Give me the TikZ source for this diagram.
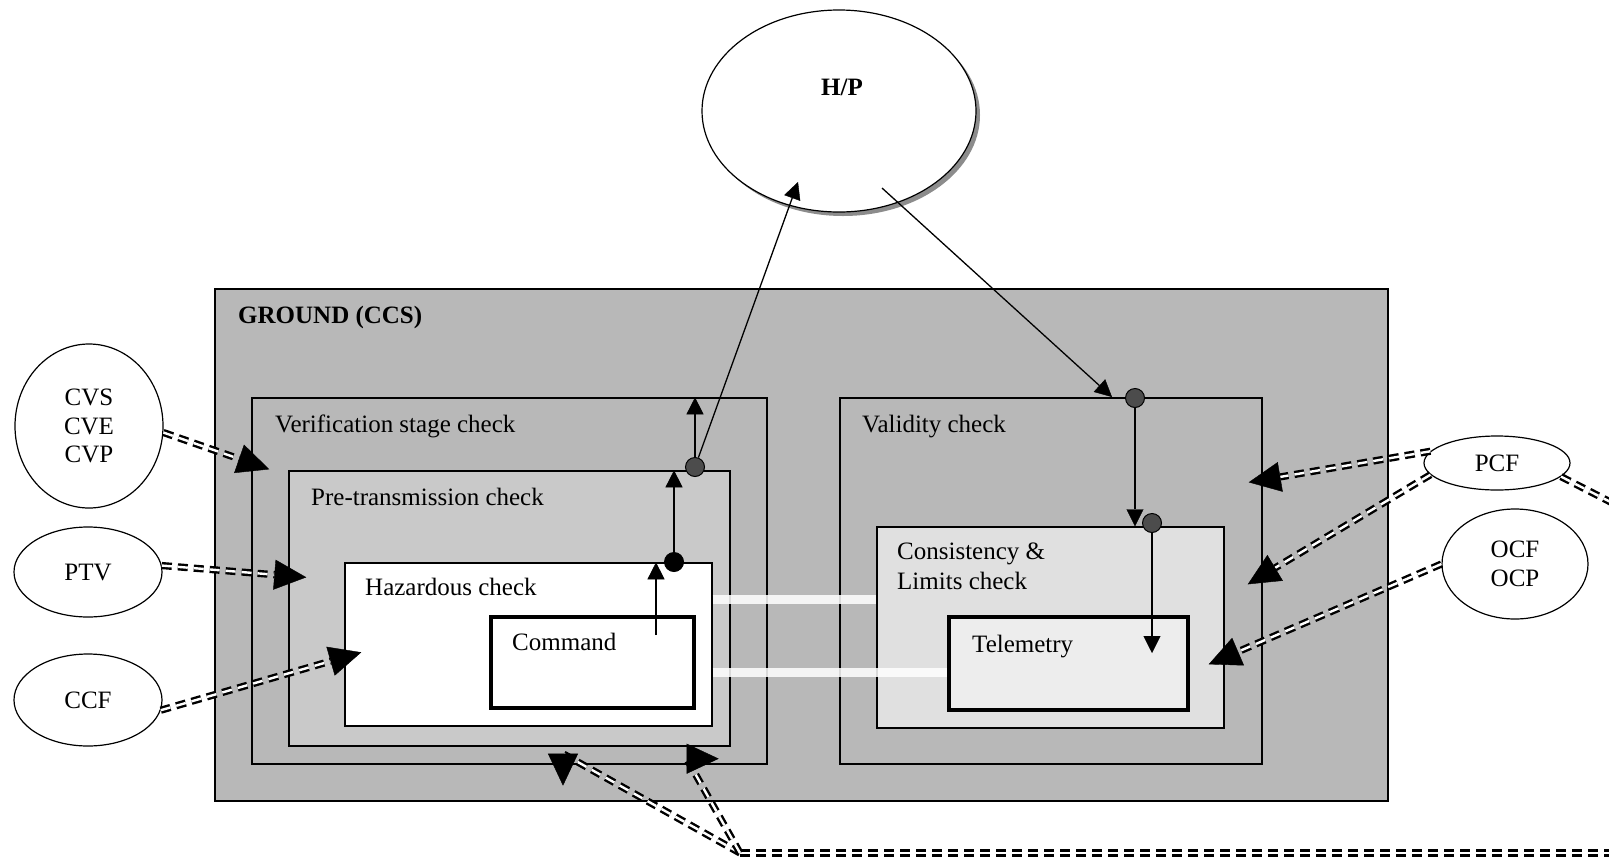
\documentclass[tikz,border=0pt]{standalone}
\usepackage{fontspec}
\setmainfont{Liberation Serif}
\usetikzlibrary{arrows.meta,shapes.geometric,shadows,calc}

\begin{document}
\begin{tikzpicture}[x=1pt, y=-1pt,
  every node/.style={font=\fontsize{25}{28.5}\selectfont},
  chk/.style={draw, line width=1.4pt, inner sep=0pt},
  inbox/.style={chk, line width=3.5pt},
  blob/.style={draw, ellipse, line width=1.2pt, fill=white, inner sep=0pt, align=center},
  lbl/.style={anchor=base west, inner sep=0pt},
  dbl/.style={double, double distance=2.4pt, line width=2.4pt, dash pattern=on 10pt off 6pt,
    -{Triangle[length=32pt,width=30pt,line width=0.4pt]}},
  flow/.style={line width=1.3pt, -{Triangle[length=17pt,width=17pt,line width=0.4pt]}},
  jdot/.style={circle, draw, line width=1pt, fill=black!70, minimum size=19pt, inner sep=0pt},
  gapbar/.style={white, line width=9pt, opacity=0.85}]
  \path[use as bounding box, clip] (0,0) rectangle (1609,860);

  % ground segment
  \node[chk, fill=black!28, minimum width=1173pt, minimum height=512pt] (ground) at (801.5,545) {};
  \node[lbl] at (238,323) {\bfseries GROUND (CCS)};

  % command side
  \node[chk, minimum width=515pt, minimum height=366pt] (ver) at (509.5,581) {};
  \node[lbl] at (275,432) {Verification stage check};
  \node[chk, fill=black!21, minimum width=441pt, minimum height=275pt] (pre) at (509.5,608.5) {};
  \node[lbl] at (311,505) {Pre-transmission check};
  \node[chk, fill=white, minimum width=367pt, minimum height=163pt] (haz) at (528.5,644.5) {};
  \node[lbl] at (365,595) {Hazardous check};
  \node[inbox, fill=white, minimum width=203pt, minimum height=91pt] (cmd) at (592.5,662.5) {};
  \node[lbl] at (512,650) {Command};

  % telemetry side
  \node[chk, minimum width=422pt, minimum height=366pt] (val) at (1051,581) {};
  \node[lbl] at (862,432) {Validity check};
  \node[chk, fill=black!12, minimum width=347pt, minimum height=201pt] (cons) at (1050.5,627.5) {};
  \node[lbl] at (897,559) {Consistency \&};
  \node[lbl] at (897,589) {Limits check};
  \node[inbox, fill=black!7, minimum width=239pt, minimum height=93pt] (tel) at (1068.5,663.5) {};
  \node[lbl] at (972,652) {Telemetry};

  \draw[gapbar] (haz.east |- 0,599) -- (cons.west |- 0,599);
  \draw[gapbar] (haz.east |- 0,672) -- (tel.west |- 0,672);

  % outside parties
  \node[blob, minimum width=274pt, minimum height=202pt,
    drop shadow={shadow xshift=4pt, shadow yshift=-4pt, fill=black!45, opacity=1}] (hp) at (839,111) {};
  \node[anchor=base, font=\fontsize{25}{28.5}\selectfont\bfseries] at ($(hp.north)+(3,86)$) {H/P};
  \node[blob, minimum width=148pt, minimum height=164pt] (cvs) at (89,426) {CVS\\CVE\\CVP};
  \node[blob, minimum width=148pt, minimum height=90pt] (ptv) at (88,572) {PTV};
  \node[blob, minimum width=148pt, minimum height=92pt] (ccf) at (88,700) {CCF};
  \node[blob, minimum width=146pt, minimum height=54pt] (pcf) at (1497,463) {PCF};
  \node[blob, minimum width=146pt, minimum height=110pt] (ocf) at (1515,564) {OCF\\OCP};

  \draw[dbl] (cvs.-5) -- ($(pre.north west)+(-19,-1)$);
  \draw[dbl] (ptv.5) -- ($(pre.north west)+(18,107)$);
  \draw[dbl] (ccf.-8) -- ($(haz.north west)+(17,90)$);
  \draw[dbl] (pcf.170) -- ($(val.north east)+(-14,85)$);
  \draw[dbl] (pcf.190) -- ($(val.north east)+(-15,187)$);
  \draw[dbl] (ocf.west) -- ($(cons.north east)+(-16,138)$);
  \draw[dbl, -] (pcf.-12) -- (1630,512);

  % return path along the bottom
  \coordinate (jn) at (740,853);
  \draw[dbl, -] (jn) -- (1630,853);
  \draw[dbl] (jn) -- ($(ver.south)+(53.5,-11)$) -- ++(0,32);
  \draw[dbl] (jn) -- ($(ver.south east)+(-81,-6)$) -- ++(32,0);

  % junctions
  \node[jdot] (gpre) at (695,467) {};
  \node[jdot, fill=black] (bhaz) at (674,562) {};
  \node[jdot] (gval) at (1135,398) {};
  \node[jdot] (gcon) at (1152,523) {};
  \coordinate (cmdout) at (656,635);

  \draw[flow] (cmdout) -- (cmdout |- haz.north);
  \draw[flow] (bhaz) -- (bhaz |- pre.north);
  \draw[flow] (gpre) -- (gpre |- ver.north);
  \draw[flow] (gpre) -- ($(hp.center)+(-41,71)$);
  \draw[flow] ($(hp.center)+(43,77)$) -- ($(gval.west)+(-13,-1)$);
  \draw[flow] (gval) -- (gval |- cons.north);
  \draw[flow] (gcon) -- ($(gcon)+(0,130)$);
\end{tikzpicture}
\end{document}
